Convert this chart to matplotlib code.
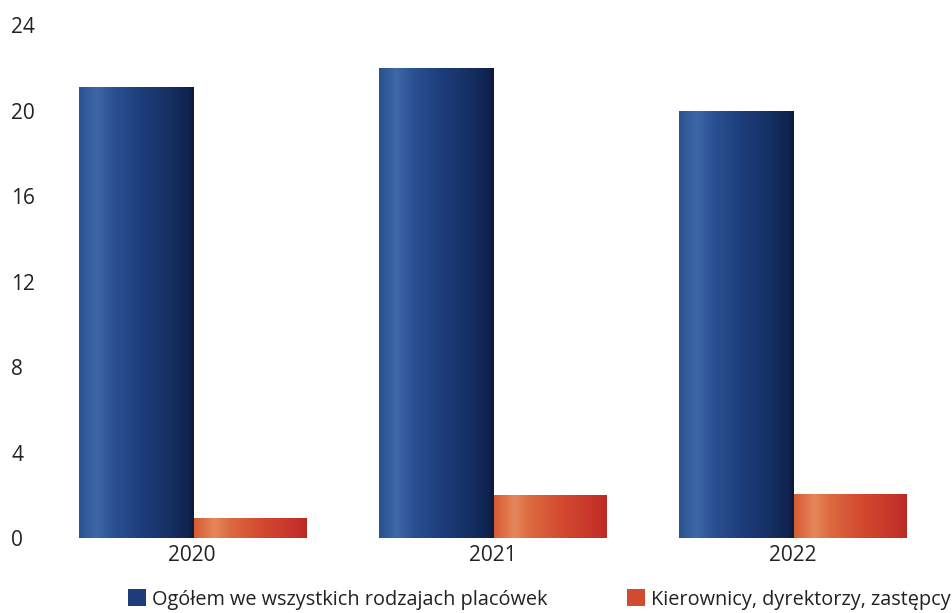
import numpy as np
import matplotlib
matplotlib.use("Agg")
import matplotlib.pyplot as plt
from matplotlib.colors import LinearSegmentedColormap
from matplotlib.patches import Patch

years = ["2020", "2021", "2022"]
ogolem = [21.1, 22.0, 20.0]
kierownicy = [0.95, 2.0, 2.05]
series_names = ["Ogółem we wszystkich rodzajach placówek", "Kierownicy, dyrektorzy, zastępcy"]
yticks = [0, 4, 8, 12, 16, 20, 24]

plt.rcParams['font.family'] = ['Open Sans', 'DejaVu Sans']

fig = plt.figure(figsize=(9.53, 6.13), dpi=100)
ax = fig.add_axes([0.044, 0.1223, 0.9455, 0.8367])

blue_cmap = LinearSegmentedColormap.from_list("b", [
    (0.0, "#28518f"), (0.15, "#3f68a8"), (0.3, "#2a5193"), (0.55, "#1d3d7a"),
    (0.8, "#152f63"), (0.95, "#0f234f"), (1.0, "#0a1838")])
orange_cmap = LinearSegmentedColormap.from_list("o", [
    (0.0, "#d65a32"), (0.18, "#e5875a"), (0.32, "#dc6a40"), (0.6, "#d24a30"),
    (0.85, "#c8372a"), (1.0, "#bd2a25")])

x = np.arange(len(years))
w = 0.38
b1 = ax.bar(x - 0.375 / 2, ogolem, w, color="#1d3d7a", linewidth=0)
b2 = ax.bar(x + 0.375 / 2 + 0.005, kierownicy, 0.375, color="#d24a30", linewidth=0)

grad = np.linspace(0, 1, 256).reshape(1, -1)
for bars, cmap in ((b1, blue_cmap), (b2, orange_cmap)):
    for r in bars:
        x0, y0 = r.get_x(), r.get_y()
        x1, y1 = x0 + r.get_width(), y0 + r.get_height()
        im = ax.imshow(grad, extent=[x0, x1, y0, y1], aspect="auto", cmap=cmap,
                       zorder=r.get_zorder() + 0.1, interpolation="bicubic")
        im.set_clip_path(r)

ax.set_xlim(-0.5, 2.5)
ax.set_ylim(0, 24)
ax.set_xticks(x)
ax.set_xticklabels(years)
ax.set_yticks(yticks)
for s in ax.spines.values():
    s.set_visible(False)
ax.tick_params(axis="both", length=0, labelsize=15, colors="#222222")
ax.tick_params(axis="x", pad=5)
ax.tick_params(axis="y", pad=22)
for lab in ax.get_yticklabels():
    lab.set_horizontalalignment("left")

handles = [Patch(facecolor="#1d3d7a", edgecolor="none"),
           Patch(facecolor="#d24a30", edgecolor="none")]
fig.legend(handles, series_names, loc="center", bbox_to_anchor=(0.566, 0.022),
           ncol=2, frameon=False, fontsize=14.3, handlelength=0.9, handleheight=0.9,
           handletextpad=0.3, columnspacing=4.0, labelcolor="#222222")

fig.savefig("out.png", dpi=100)
